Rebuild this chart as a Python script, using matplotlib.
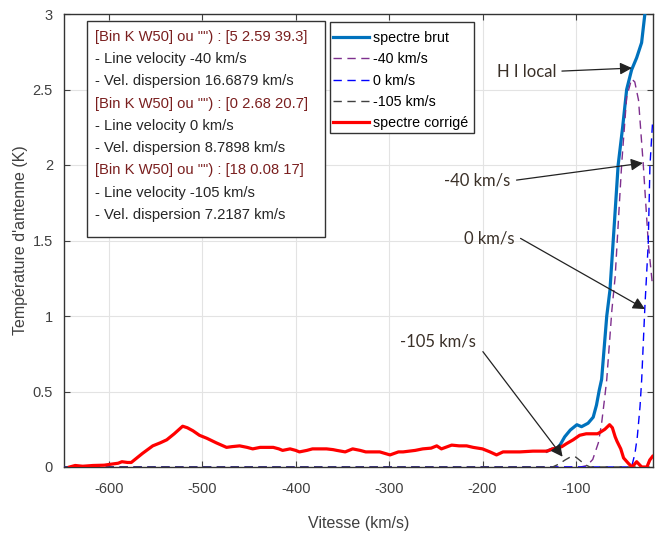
import matplotlib
matplotlib.use('Agg')
import matplotlib.pyplot as plt
from matplotlib.patches import Rectangle

plt.rcParams['font.family'] = ['Liberation Sans', 'DejaVu Sans']
plt.rcParams['axes.unicode_minus'] = False

# spectre corrige (red)
v_corr = [-642, -636, -628, -617, -605, -596, -590, -586, -580, -576, -570, -564, -553, -545, -538,
          -530, -521, -516, -510, -503, -495, -485, -474, -468, -460, -452, -446, -438, -430, -424,
          -418, -414, -406, -400, -396, -388, -382, -374, -367, -360, -356, -347, -339, -331, -325,
          -317, -310, -299, -290, -285, -272, -264, -255, -249, -244, -233, -225, -217, -210, -200,
          -192, -185, -178, -167, -160, -146, -131, -125, -120, -115, -110, -103, -96, -89, -82,
          -77, -74, -69, -64, -61, -58, -56, -52, -49, -44, -40, -37, -35, -32, -29.6, -24, -21, -18]
t_corr = [0.00, 0.01, 0.005, 0.01, 0.012, 0.02, 0.025, 0.035, 0.03, 0.03, 0.06, 0.09, 0.14, 0.16, 0.18,
          0.22, 0.27, 0.26, 0.24, 0.21, 0.19, 0.16, 0.13, 0.135, 0.14, 0.13, 0.12, 0.13, 0.13, 0.13,
          0.12, 0.11, 0.12, 0.11, 0.10, 0.11, 0.12, 0.12, 0.12, 0.115, 0.11, 0.10, 0.12, 0.11, 0.10,
          0.10, 0.10, 0.08, 0.10, 0.10, 0.11, 0.12, 0.125, 0.14, 0.12, 0.145, 0.14, 0.14, 0.13, 0.12,
          0.10, 0.08, 0.10, 0.10, 0.10, 0.105, 0.105, 0.12, 0.125, 0.135, 0.155, 0.18, 0.21, 0.22, 0.22,
          0.22, 0.23, 0.25, 0.28, 0.26, 0.20, 0.17, 0.12, 0.06, 0.025, 0.0, 0.02, 0.035, 0.015, 0.0, 0.0, 0.046, 0.07]

# spectre brut (blue), where it departs from the corrected one
v_brut = [-131, -125, -120, -117, -112, -106, -99, -94, -87, -81.5, -78, -75, -72.5, -67, -63.6,
          -59, -54.8, -50, -45.7, -40.4, -35, -29.7, -26.2, -24]
t_brut = [0.105, 0.12, 0.125, 0.146, 0.20, 0.245, 0.28, 0.267, 0.29, 0.33, 0.41, 0.51, 0.58, 1.0, 1.17,
          1.60, 2.0, 2.25, 2.50, 2.63, 2.71, 2.81, 3.0, 3.15]

# gaussian components
v_g40 = [-648, -130, -95, -88, -82, -76, -72.5, -69, -67, -61.5, -58, -51, -45.7, -40.4, -37, -33, -28, -22.5, -18]
t_g40 = [0, 0, 0.0, 0.01, 0.05, 0.16, 0.29, 0.47, 0.58, 1.04, 1.26, 2.01, 2.45, 2.57, 2.55, 2.43, 2.01, 1.48, 1.20]

v_g0 = [-648, -42, -40.4, -36.8, -34.3, -31.4, -29.6, -26.2, -22.6, -20.8, -18]
t_g0 = [0, 0, 0, 0.09, 0.2, 0.4, 0.58, 1.06, 1.48, 1.99, 2.28]

v_g105 = [-648, -125, -118, -112, -105, -100, -95, -90, -85, -18]
t_g105 = [0, 0, 0.02, 0.045, 0.07, 0.065, 0.04, 0.015, 0, 0]

box_lines = ['[Bin K W50] ou "") : [5 2.59 39.3]',
             '- Line velocity -40 km/s',
             '- Vel. dispersion 16.6879 km/s',
             '[Bin K W50] ou "") : [0 2.68 20.7]',
             '- Line velocity 0 km/s',
             '- Vel. dispersion 8.7898 km/s',
             '[Bin K W50] ou "") : [18 0.08 17]',
             '- Line velocity -105 km/s',
             '- Vel. dispersion 7.2187 km/s']

# annotations: label, text position, arrow start, arrow tip
ann_labels = ['H I local', '-40 km/s', '0 km/s', '-105 km/s']
ann_text = [(-152.5, 2.616), (-205.5, 1.896), (-193.1, 1.514), (-247.4, 0.83)]
ann_start = [(-115, 2.622), (-163.6, 1.90), (-159.3, 1.514), (-199.6, 0.764)]
ann_tip = [(-40.0, 2.642), (-28.3, 2.013), (-26.1, 1.046), (-114.3, 0.068)]

fig = plt.figure(figsize=(6.65, 5.35), dpi=100)
ax = fig.add_axes([64 / 665, 68 / 535, 589 / 665, 453 / 535])

ax.plot(v_brut, t_brut, color='#0072BD', lw=2.3, label='spectre brut', zorder=3)
ax.plot(v_g40, t_g40, color='#7E2F8E', lw=1.0, ls=(0, (6, 4)), label='-40 km/s', zorder=4)
ax.plot(v_g0, t_g0, color='#0000FF', lw=1.0, ls=(0, (6, 4)), label='0 km/s', zorder=4)
ax.plot(v_g105, t_g105, color='#404040', lw=1.0, ls=(0, (6, 4)), label='-105 km/s', zorder=4)
ax.plot(v_corr, t_corr, color='#FF0000', lw=2.3, label='spectre corrigé', zorder=5)

ax.set_xlim(-648, -17.5)
ax.set_ylim(0, 3)
ax.set_xticks([-600, -500, -400, -300, -200, -100])
ax.set_yticks([0, 0.5, 1, 1.5, 2, 2.5, 3])
ax.set_yticklabels(['0', '0.5', '1', '1.5', '2', '2.5', '3'])
ax.tick_params(direction='in', top=True, right=True, length=4, width=0.8,
               labelsize=10.5, colors='#404040', pad=8)
ax.tick_params(axis='x', pad=11)
ax.grid(True, color='#e3e3e3', lw=0.8)
ax.set_axisbelow(True)
for s in ax.spines.values():
    s.set_color('#333333')
    s.set_linewidth(1.0)

ax.set_xlabel('Vitesse (km/s)', fontsize=11.5, color='#404040', labelpad=14)
ax.set_ylabel("Température d'antenne (K)", fontsize=11.5, color='#404040', labelpad=3)

# info box
ax.add_patch(Rectangle((0.039, 0.5077), 0.404, 0.4769, transform=ax.transAxes,
                       facecolor='white', edgecolor='#333333', lw=1.0, zorder=6))
for i, line in enumerate(box_lines):
    col = '#7a1f1f' if line.startswith('[') else '#262626'
    ax.text(0.0526, 0.950 - i * 0.0492, line, transform=ax.transAxes, fontsize=10.6,
            color=col, va='center', ha='left', zorder=7)

# legend with its own frame
ax.add_patch(Rectangle((0.4516, 0.7373), 0.2445, 0.245, transform=ax.transAxes,
                       facecolor='white', edgecolor='#333333', lw=1.0, zorder=7.5))
leg = ax.legend(loc='upper left', bbox_to_anchor=(0.4567, 0.962), fontsize=10.3,
                frameon=False, handlelength=2.55, handletextpad=0.25, labelspacing=0.5,
                borderpad=0, borderaxespad=0)
leg.set_zorder(8)

arrow = dict(arrowstyle='-|>', color='#222222', lw=0.9, mutation_scale=18, shrinkA=0, shrinkB=0)
for lab, txt, start, tip in zip(ann_labels, ann_text, ann_start, ann_tip):
    ax.text(txt[0], txt[1], lab, fontsize=12, color='#3a3028', family=['Lato', 'DejaVu Sans'],
            ha='center', va='center', zorder=9)
    ax.annotate('', xy=tip, xytext=start, arrowprops=arrow, zorder=9)

fig.savefig('out.png', dpi=100)
